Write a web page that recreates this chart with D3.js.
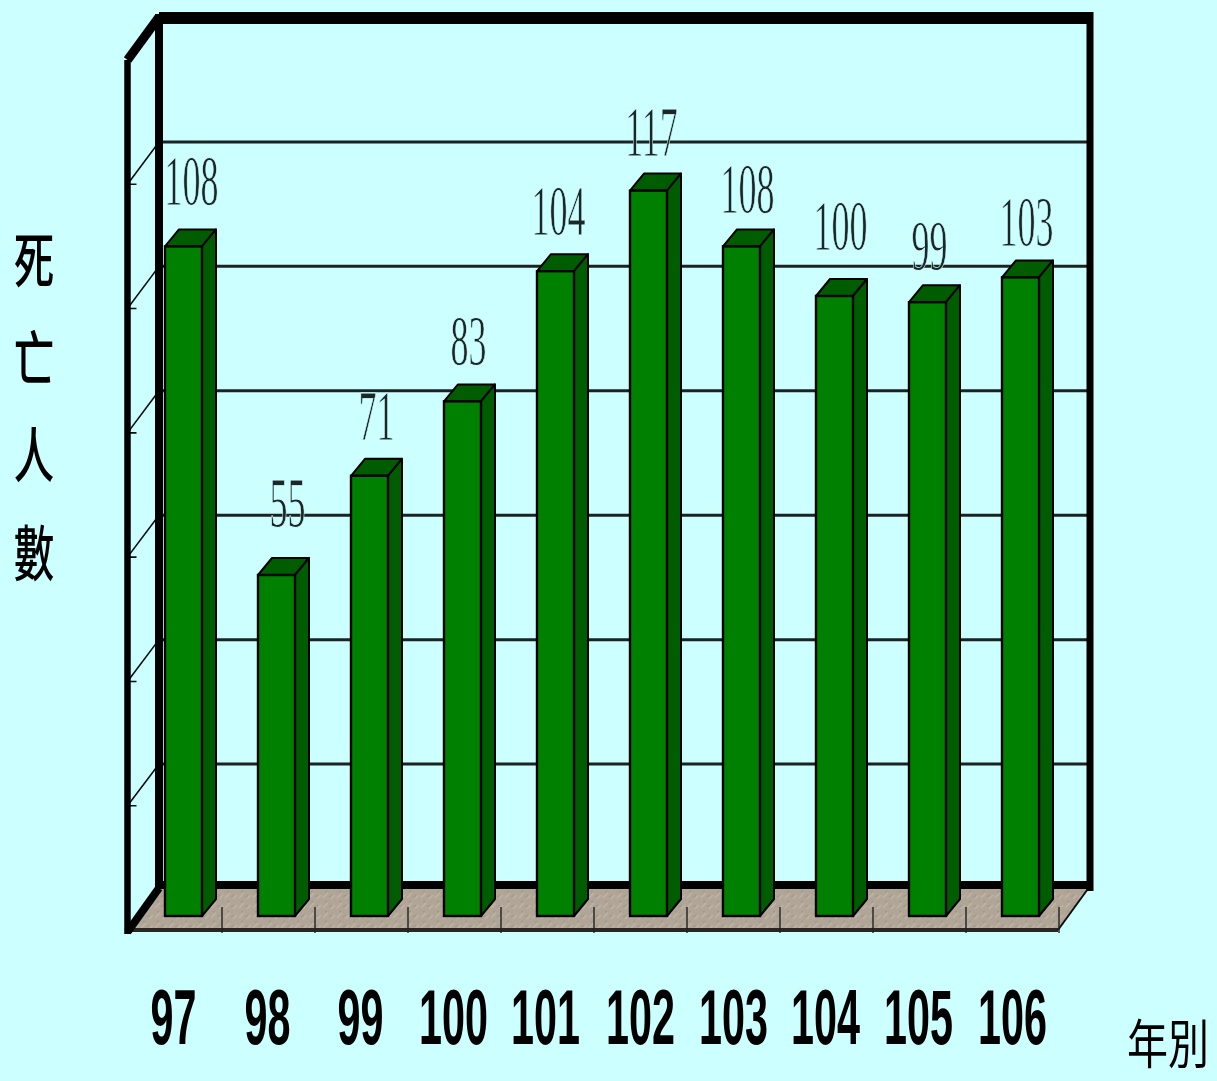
<!DOCTYPE html>
<html><head><meta charset="utf-8">
<style>html,body{margin:0;padding:0;background:#ccffff;overflow:hidden}svg{display:block}</style>
<script src="https://cdn.jsdelivr.net/npm/d3@7"></script></head>
<body><div id="c"></div>
<script>
const categories=["97","98","99","100","101","102","103","104","105","106"];
const deaths=[108,55,71,83,104,117,108,100,99,103];
const axisTicks=[0,20,40,60,80,100,120,140];
const labelNudgeX=[0,3,-1,-2,-5,-5,-2,-2,-6,-2];
const labelNudgeY=[-5,-12,0,0,0,1,3,-10,4,5];
const tickNudgeX=[0,1,1,1,0,2,2,1,1,2];
const yTitle=["死","亡","人","數"];
const xTitle="年別";

const W=1217,H=1081;
const svg=d3.select("#c").append("svg").attr("width",W).attr("height",H);
const defs=svg.append("defs");
defs.append("filter").attr("id","soft").append("feGaussianBlur").attr("stdDeviation",0.55);
const tex=defs.append("pattern").attr("id","floor").attr("patternUnits","userSpaceOnUse").attr("width",14).attr("height",10);
tex.append("rect").attr("width",14).attr("height",10).attr("fill","#b0a596");
tex.append("path").attr("d","M1 8L6 3M9 9L13 5").attr("stroke","#bdb4a6").attr("stroke-width",1.6);
tex.append("path").attr("d","M3 2L5 1M7 7L10 5").attr("stroke","#a49a8a").attr("stroke-width",1.4);
svg.append("rect").attr("width",W).attr("height",H).attr("fill","#ccffff");
const g=svg.append("g").attr("filter","url(#soft)");

// Scales: front plane, back wall, bars (mid depth)
const x=d3.scaleBand().domain(categories).range([129,1059]);
const barInset=36,barW=37,depthX=14,depthY=17;
const yBar=d3.scaleLinear().domain([0,140]).range([916,48]);
const yBack=d3.scaleLinear().domain([0,140]).range([888.5,17.5]);
const yFront=d3.scaleLinear().domain([0,140]).range([930,60]);
const backL=159,backR=1090,frontL=127.5,frontR=1058;

// Floor
g.append("polygon").attr("fill","url(#floor)")
 .attr("points",[[frontL,930],[frontR,930],[backR,885],[backL,885]].join(" "));
g.append("line").attr("x1",frontL).attr("x2",frontR).attr("y1",930).attr("y2",930).attr("stroke","#2a2620").attr("stroke-width",4);
g.append("line").attr("x1",frontR).attr("x2",backR).attr("y1",930).attr("y2",886).attr("stroke","#111").attr("stroke-width",2);

// Gridlines
g.selectAll(".grid").data(axisTicks.filter(t=>t>0&&t<140)).join("line")
 .attr("x1",backL).attr("x2",backR).attr("y1",d=>yBack(d)).attr("y2",d=>yBack(d))
 .attr("stroke","#1c2222").attr("stroke-width",3);

// Left wall tick diagonals
g.selectAll(".wt").data(axisTicks.filter(t=>t>0&&t<140)).join("path")
 .attr("d",d=>`M${backL},${yBack(d)}L${frontL},${yFront(d)}h9`)
 .attr("fill","none").attr("stroke","#111").attr("stroke-width",1.6);

// Floor ticks
g.selectAll(".ft").data(categories).join("line")
 .attr("x1",d=>x(d)+x.bandwidth()).attr("x2",d=>x(d)+x.bandwidth())
 .attr("y1",907).attr("y2",933).attr("stroke","#222").attr("stroke-width",1.4);

// Frame
const frame=(pts,w)=>g.append("polyline").attr("points",pts.join(" ")).attr("fill","none")
 .attr("stroke","#000").attr("stroke-width",w).attr("stroke-linejoin","miter");
frame([[backL,885],[backR,885]],8);
frame([[backL,18],[backR,18]],12);
frame([[backL,14],[backL,888]],8);
frame([[backR,12],[backR,891]],7);
frame([[frontL,60],[frontL,934]],6.5);
frame([[frontL,60],[backL,17]],9);
frame([[frontL,932],[backL,888]],8);

// Bars
const bars=g.selectAll(".bar").data(categories.map((c,i)=>({c,v:deaths[i],i}))).join("g");
bars.append("polygon").attr("fill","#005c00").attr("stroke","#000").attr("stroke-width",2)
 .attr("stroke-linejoin","round")
 .attr("points",d=>{const l=x(d.c)+barInset,r=l+barW,t=yBar(d.v);
   return [[l,t],[l+depthX,t-depthY],[r+depthX,t-depthY],[r,t]].join(" ")});
bars.append("polygon").attr("fill","#005c00").attr("stroke","#000").attr("stroke-width",2)
 .attr("stroke-linejoin","round")
 .attr("points",d=>{const r=x(d.c)+barInset+barW,t=yBar(d.v),b=yBar(0);
   return [[r,t],[r+depthX,t-depthY],[r+depthX,b-depthY],[r,b]].join(" ")});
bars.append("rect").attr("fill","#008000").attr("stroke","#000").attr("stroke-width",2.4)
 .attr("x",d=>x(d.c)+barInset).attr("width",barW)
 .attr("y",d=>yBar(d.v)).attr("height",d=>yBar(0)-yBar(d.v));

// Value labels (tall, narrow, thin serif digits)
bars.append("text")
 .attr("transform",d=>`translate(${x(d.c)+barInset+barW/2+8+labelNudgeX[d.i]},${yBar(d.v)-depthY-19+labelNudgeY[d.i]}) scale(0.5,1)`)
 .attr("text-anchor","middle").attr("font-family","'Liberation Serif',serif")
 .attr("font-size",72).attr("fill","#1c2626")
 .attr("stroke","#ccffff").attr("stroke-width",0.9).text(d=>d.v);

// Category labels
g.selectAll(".cat").data(categories).join("text")
 .attr("transform",(d,i)=>`translate(${x(d)+x.bandwidth()/2-2+tickNudgeX[i]},1044) scale(0.53,1)`)
 .attr("text-anchor","middle").attr("font-family","'Liberation Sans',sans-serif")
 .attr("font-weight","bold").attr("font-size",78).attr("fill","#000").text(d=>d);

// Axis titles
const titleY=d3.scalePoint().domain(yTitle).range([283,576]);
g.selectAll(".yt").data(yTitle).join("text")
 .attr("transform",d=>`translate(34,${titleY(d)}) scale(0.88,1.3)`).attr("text-anchor","middle")
 .attr("font-family","'Noto Sans CJK TC',sans-serif").attr("font-weight",500)
 .attr("font-size",46).attr("fill","#000").text(d=>d);
g.append("text").attr("transform","translate(1168,1064) scale(1,1.3)").attr("text-anchor","middle")
 .attr("font-family","'Noto Sans CJK TC',sans-serif").attr("font-size",41).attr("fill","#000").text(xTitle);
</script></body></html>
